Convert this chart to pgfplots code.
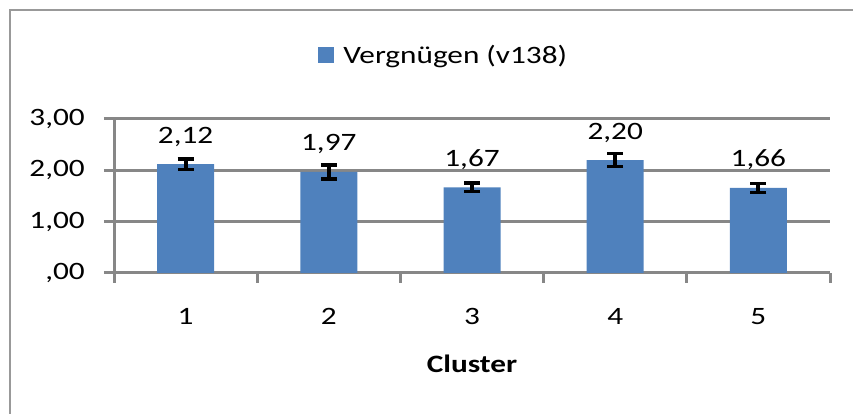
\documentclass[border=0pt]{standalone}
\usepackage{fontspec}
\setmainfont{Carlito}[FakeStretch=1.25]
\usepackage{pgfplots}
\pgfplotsset{compat=1.18}
\definecolor{barblue}{HTML}{4F81BD}
\definecolor{gridgray}{HTML}{878787}
\newcommand{\chfont}{\fontsize{25}{30}\selectfont}
\pgfplotstableread{
x y e
1 2.12 0.10
2 1.97 0.135
3 1.67 0.08
4 2.20 0.127
5 1.66 0.088
}\datatable
\begin{document}
\begin{tikzpicture}
\useasboundingbox (0,0) rectangle (853pt,414pt);
\draw[gridgray!85, line width=2pt] (10pt,0) -- (10pt,404pt) -- (853pt,404pt);
\begin{axis}[
  at={(114pt,141pt)}, anchor=south west,
  scale only axis, width=716pt, height=154pt,
  xmin=0.5, xmax=5.5, ymin=0, ymax=3,
  axis x line*=bottom, axis y line*=left,
  x axis line style={-}, y axis line style={-},
  axis line style={gridgray, line width=3pt},
  ytick={0,1,2,3}, yticklabels={{,00},{1,00},{2,00},{3,00}},
  ymajorgrids, grid style={gridgray, line width=3pt},
  tick align=outside, major tick length=10pt,
  tick style={gridgray, line width=3pt},
  xtick={0.5,1.5,2.5,3.5,4.5,5.5}, xticklabels={},
  extra x ticks={1,2,3,4,5}, extra x tick labels={1,2,3,4,5},
  extra x tick style={major tick length=0pt, xticklabel style={anchor=base, inner sep=0pt, yshift=-52pt}},
  tick label style={font=\chfont},
  yticklabel style={anchor=east, inner sep=0pt, xshift=-19pt},
  xlabel={\bfseries Cluster},
  xlabel style={font=\chfont, at={(axis description cs:0.5,0)}, anchor=base, yshift=-100pt, inner sep=0pt},
  legend style={draw=none, font=\chfont, at={(0.285,1.416)}, anchor=west, inner sep=0pt, column sep=7pt},
  legend image code/.code={\fill[barblue] (0pt,-8pt) rectangle (16pt,8pt);},
  nodes near coords={\pgfmathprintnumber[fixed,fixed zerofill,precision=2,use comma,assume math mode=true]{\pgfplotspointmeta}},
  every node near coord/.append style={font=\chfont, anchor=base, inner sep=0pt, yshift=21pt},
]
\addplot[ybar, bar width=57pt, fill=barblue, draw=none,
  error bars/.cd, y dir=both, y explicit,
  error bar style={line width=4pt, black},
  error mark options={rotate=90, mark size=8pt, line width=3.5pt, black}]
  table[x=x, y=y, y error=e] {\datatable};
\addlegendentry{Vergnügen (v138)}
\end{axis}
\end{tikzpicture}
\end{document}
